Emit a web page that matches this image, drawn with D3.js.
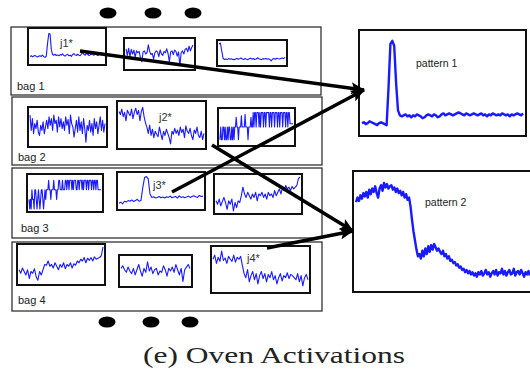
<!DOCTYPE html>
<html>
<head>
<meta charset="utf-8">
<script src="https://cdn.jsdelivr.net/npm/d3@7"></script>
<style>
  html, body { margin: 0; padding: 0; background: #fff; }
  svg { display: block; }
</style>
</head>
<body>
<svg id="chart" width="530" height="370"></svg>
<script>
// ---- Oven activation traces (0 = bottom of panel, 100 = top) ----
const bagNames = ["bag 1", "bag 2", "bag 3", "bag 4"];
const instanceLabels = ["j1*", "j2*", "j3*", "j4*"];
const patternLabels = ["pattern 1", "pattern 2"];
const caption = "(e) Oven Activations";

const bag1Trace1 = [18,20,17,19,21,18,16,19,20,18,22,17,15,19,60,92,90,40,24,22,25,21,23,20,24,22,26,21,19,23,25,20,22,18,24,27,23,21,25,22,20,26,30,24,22,27,25,21,23,26,24,22,25,23,21,24,26,23,27,25];
const bag1Trace2 = [70,45,72,40,68,50,65,38,62,55,60,35,20,58,62,50,55,85,60,48,52,30,55,62,58,40,66,50,45,60,55,70,52,20,58,62,48,65,60,42,58,5,55,62,50,68,72,58,80,62,75,85];
const bag1Trace3 = [95,100,60,22,18,20,17,22,19,21,18,16,20,23,19,21,25,20,18,22,19,17,21,24,20,22,18,20,26,21,19,17,22,20,23,19,21,18,10,20,22,19,24,21,20,23,25,22,28];

const bag2Trace1 = [85,40,75,30,60,45,70,35,25,55,40,65,30,50,70,45,80,55,75,40,85,60,70,35,80,50,75,45,65,40,80,55,72,30,85,60,50,20,45,70,35,80,40,65,30,75,45,5,55,40,70,35,60,25,75,45,65,30,55,80,40,70,35,60];
const bag2Trace2 = [82,75,88,70,80,60,85,78,72,88,65,80,90,75,85,60,82,92,70,55,45,30,50,25,40,20,35,28,22,45,30,15,35,25,40,30,20,5,35,28,42,30,38,25,45,32,40,20,48,35,30,42,25,15,38,30,45,25,20,35,15,30];
const bag2Trace3 = [10,50,10,10,50,50,10,50,10,10,50,10,50,50,10,10,50,10,50,10,
  50,50,80,50,50,10,50,50,50,85,50,50,50,50,90,50,50,50,10,50,50,50,80,50,50,
  95,50,95,95,50,95,95,95,50,95,50,95,95,95,50,95,95,50,95,95,95,95,50,95,95,50,95,95,95,50,95,95,95,50,95,95,50,95,95,95,50,95,95,95,50,95,95,50,95,95,
  60,60,60,60,60];

const bag3Trace1 = [30,0,30,0,60,30,30,0,60,60,30,0,30,60,30,0,30,60,60,30,0,30,60,30,60,
  60,60,90,60,60,30,60,60,60,90,60,60,60,30,60,60,90,90,60,60,60,90,60,60,60,
  90,90,60,90,90,60,90,90,90,60,90,60,90,90,90,60,60,90,90,60,90,90,90,60,90,60,90,90,90,60,90,90,60,90,90,90,60,90,90,60,90,90,60,90,90,
  60,60,60,60,60];
const bag3Trace2 = [12,15,10,18,16,20,18,22,17,20,24,18,20,60,92,95,88,40,30,32,28,30,33,29,31,28,32,30,34,29,31,33,28,35,30,32,29,31,34,30,33,35,32,30,36,33,34];
const bag3Trace3 = [30,20,35,15,28,40,25,5,30,20,35,0,25,10,30,25,45,70,50,40,55,45,35,50,40,55,30,50,45,55,40,50,35,55,45,50,40,60,45,55,65,50,70,60,75,65,70,60,72,65,70,75,95,100];

const bag4Trace1 = [35,25,40,30,20,35,10,30,25,38,15,5,30,20,35,50,48,60,45,50,40,55,45,35,50,42,55,38,50,45,55,40,52,48,60,55,65,60,70,55,68,62,70,60,72,65,68,70,75,100];
const bag4Trace2 = [60,70,55,45,65,50,40,60,35,55,75,50,30,60,45,85,50,65,40,55,60,35,50,45,70,55,30,60,50,65,45,75,55,35,60,10,55,65,75,60];
const bag4Trace3 = [75,85,65,80,70,95,72,78,65,82,75,70,85,68,80,75,82,60,40,30,50,20,35,45,25,40,15,35,45,28,40,20,38,30,45,25,35,15,30,40,22,35,30,42,28,38,35,30,25,40,20,35,10,30,38,25];

const pattern1Trace = [9,10,8,9,11,10,9,8,7,9,10,9,8,7,45,90,93,88,50,22,17,16,17,18,16,17,15,17,16,18,17,16,14,15,17,18,17,16,18,17,15,16,18,19,17,18,19,18,17,18,19,20,19,18,17,19,18,17,18,19,18,17,18,19,17,18,16,18,17,19,18,17,18,17,19,18,17,18,16,18,17,18,19,18,17,19];
const pattern2Trace = [76,80,77,82,79,84,81,85,80,87,83,88,85,90,84,80,88,91,86,93,89,92,88,90,91,87,89,85,88,84,86,82,85,80,83,78,80,72,60,50,42,34,28,30,26,33,28,35,30,37,32,38,34,39,36,33,35,32,30,33,28,30,26,28,24,25,22,23,20,21,18,19,16,17,14,16,13,15,12,14,11,13,10,14,12,15,11,13,16,12,14,10,13,15,12,16,11,14,13,17,12,15,11,14,16,12,13,17,11,14,15,12,16,13,10,14,12,15,11];

// ---- layout ----
const svg = d3.select("#chart");

const bagFrames = [
  {x: 11, y: 27, w: 310, h: 68},
  {x: 12, y: 97, w: 310, h: 68},
  {x: 12, y: 168, w: 310, h: 70},
  {x: 12, y: 242, w: 310, h: 69}
];
const bagLabelPos = [{x: 17, y: 90}, {x: 18, y: 161}, {x: 21, y: 232}, {x: 18, y: 304}];

const panels = [
  {data: bag1Trace1, x: 28, y: 28, w: 78, h: 37},
  {data: bag1Trace2, x: 124, y: 38, w: 71, h: 32},
  {data: bag1Trace3, x: 217, y: 40, w: 70, h: 26},
  {data: bag2Trace1, x: 28, y: 107, w: 79, h: 40},
  {data: bag2Trace2, x: 117, y: 101, w: 89, h: 48},
  {data: bag2Trace3, x: 218, y: 108, w: 77, h: 38},
  {data: bag3Trace1, x: 27, y: 174, w: 76, h: 38},
  {data: bag3Trace2, x: 117, y: 172, w: 88, h: 38},
  {data: bag3Trace3, x: 214, y: 174, w: 88, h: 40},
  {data: bag4Trace1, x: 17, y: 244, w: 88, h: 41},
  {data: bag4Trace2, x: 119, y: 255, w: 73, h: 32},
  {data: bag4Trace3, x: 211, y: 246, w: 99, h: 47}
];
const instanceLabelPos = [{x: 60, y: 47}, {x: 159, y: 121}, {x: 153, y: 189}, {x: 247, y: 262}];

const patternPanels = [
  {data: pattern1Trace, x: 359, y: 30, w: 167, h: 106, label: {x: 416, y: 67}},
  {data: pattern2Trace, x: 353, y: 171, w: 180, h: 121, label: {x: 425, y: 206}}
];

// bag frames
svg.selectAll("rect.bag").data(bagFrames).enter().append("rect")
  .attr("class", "bag")
  .attr("x", d => d.x).attr("y", d => d.y)
  .attr("width", d => d.w).attr("height", d => d.h)
  .attr("fill", "none").attr("stroke", "#333").attr("stroke-width", 1.3);

svg.selectAll("text.bag").data(bagNames).enter().append("text")
  .attr("class", "bag")
  .attr("x", (d, i) => bagLabelPos[i].x).attr("y", (d, i) => bagLabelPos[i].y)
  .attr("font-family", "Liberation Sans, Arial, sans-serif")
  .attr("font-size", 11).attr("fill", "#222")
  .text(d => d);

// small trace panels
function drawTrace(g, p, inset, width) {
  const x = d3.scaleLinear().domain([0, p.data.length - 1]).range([p.x + inset, p.x + p.w - inset]);
  const y = d3.scaleLinear().domain([0, 100]).range([p.y + p.h - inset - 1, p.y + inset + 1]);
  g.append("path")
    .datum(p.data)
    .attr("d", d3.line().x((d, i) => x(i)).y(d => y(d)))
    .attr("fill", "none").attr("stroke", "#1a1aff")
    .attr("stroke-width", width).attr("stroke-linejoin", "round");
}

panels.forEach(p => {
  const g = svg.append("g");
  drawTrace(g, p, 2, 1.1);
  g.append("rect")
    .attr("x", p.x).attr("y", p.y).attr("width", p.w).attr("height", p.h)
    .attr("fill", "none").attr("stroke", "#111").attr("stroke-width", 2);
});

svg.selectAll("text.inst").data(instanceLabels).enter().append("text")
  .attr("class", "inst")
  .attr("x", (d, i) => instanceLabelPos[i].x).attr("y", (d, i) => instanceLabelPos[i].y)
  .attr("font-family", "Liberation Sans, Arial, sans-serif")
  .attr("font-size", 11).attr("fill", "#333")
  .text(d => d);

// pattern panels
patternPanels.forEach((p, i) => {
  const g = svg.append("g");
  drawTrace(g, p, 3, 2.4);
  g.append("rect")
    .attr("x", p.x).attr("y", p.y).attr("width", p.w).attr("height", p.h)
    .attr("fill", "none").attr("stroke", "#111").attr("stroke-width", 2);
  g.append("text")
    .attr("x", p.label.x).attr("y", p.label.y)
    .attr("font-family", "Liberation Sans, Arial, sans-serif")
    .attr("font-size", 10.5).attr("fill", "#222")
    .text(patternLabels[i]);
});

// arrows from instances to learned patterns
svg.append("defs").append("marker")
  .attr("id", "head")
  .attr("markerUnits", "userSpaceOnUse")
  .attr("viewBox", "0 0 14 12")
  .attr("markerWidth", 14).attr("markerHeight", 12)
  .attr("refX", 13).attr("refY", 6)
  .attr("orient", "auto")
  .append("path").attr("d", "M0,0 L14,6 L0,12 L3,6 Z").attr("fill", "#000");

const arrows = [
  {from: [80, 51], to: [364, 90]},
  {from: [172, 192], to: [364, 90]},
  {from: [212, 145], to: [353, 231]},
  {from: [267, 248], to: [353, 231]}
];
svg.selectAll("line.arrow").data(arrows).enter().append("line")
  .attr("class", "arrow")
  .attr("x1", d => d.from[0]).attr("y1", d => d.from[1])
  .attr("x2", d => d.to[0]).attr("y2", d => d.to[1])
  .attr("stroke", "#000").attr("stroke-width", 3.5)
  .attr("marker-end", "url(#head)");

// ellipsis dots
const dotCenters = [[108, 13], [153, 13], [193, 13], [107, 322], [151, 322], [190, 322]];
svg.selectAll("ellipse.dot").data(dotCenters).enter().append("ellipse")
  .attr("class", "dot")
  .attr("cx", d => d[0]).attr("cy", d => d[1])
  .attr("rx", 8.5).attr("ry", 5.5).attr("fill", "#000");

// caption
svg.append("text")
  .attr("x", 274).attr("y", 363)
  .attr("text-anchor", "middle")
  .attr("font-family", "Liberation Serif, Times New Roman, serif")
  .attr("font-size", 24).attr("fill", "#222")
  .attr("textLength", 262).attr("lengthAdjust", "spacingAndGlyphs")
  .text(caption);
</script>
</body>
</html>
